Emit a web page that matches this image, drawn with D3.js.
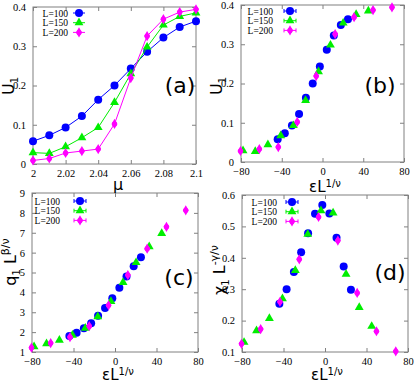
<!DOCTYPE html>
<meta charset="utf-8">
<style>
body { margin: 0; background: #fff; }
svg { display: block; }
.tick text { font-family: "Liberation Serif", serif; font-size: 10.5px; fill: #000; }
.frame { fill: none; stroke: #808080; stroke-width: 1; }
.lbl { font-family: "DejaVu Sans", sans-serif; fill: #000; }
.leg { font-family: "Liberation Serif", serif; font-size: 9.5px; }
</style>
<svg width="415" height="384" id="chart"></svg>
<script src="https://d3js.org/d3.v7.min.js"></script>
<script>

// panel (a): Binder cumulant vs mu
var mu = [2.00, 2.01, 2.02, 2.03, 2.04, 2.05, 2.06, 2.07, 2.08, 2.09, 2.10];
var u100 = [0.058, 0.073, 0.093, 0.122, 0.164, 0.200, 0.243, 0.286, 0.322, 0.349, 0.364];
var u150 = [0.029, 0.027, 0.044, 0.067, 0.093, 0.157, 0.230, 0.298, 0.354, 0.376, 0.385];
var u200 = [0.009, 0.014, 0.028, 0.033, 0.038, 0.102, 0.219, 0.326, 0.369, 0.387, 0.394];

// scaled variable eps L^(1/nu) for collapsed panels
var x100 = [-44, -37, -30, -23, -16.3, -9.6, -2.6, 4.2, 11.1, 18, 25];
var x150 = [-78, -66, -53.6, -41, -28.6, -16.6, -3.9, 7.8, 20.3, 33, 45];
var x200 = [-80.5, -62, -43.4, -24.8, -6.2, 12.4, 31, 49.6, 68.2];   // mu 2.02 .. 2.10

// panel (c): q1 L^(beta/nu)
var q100 = [1.80, 1.97, 2.20, 2.45, 2.82, 3.22, 3.70, 4.23, 4.80, 5.32, 5.77];
var q150 = [1.27, 1.42, 1.60, 1.85, 2.20, 2.78, 3.55, 4.50, 5.50, 6.30, 6.97];
var q200 = [1.22, 1.45, 1.75, 2.30, 3.35, 4.87, 6.20, 7.30, 8.13];

// panel (d): chi1 L^(-gamma/nu)
var c100 = [0.254, 0.300, 0.355, 0.418, 0.478, 0.540, 0.568, 0.541, 0.464, 0.372, 0.298];
var c150 = [0.131, 0.168, 0.207, 0.270, 0.360, 0.475, 0.550, 0.543, 0.348, 0.242, 0.182];
var c200 = [0.126, 0.173, 0.260, 0.395, 0.530, 0.455, 0.288, 0.166, 0.102];

var labels = ["L=100", "L=150", "L=200"];
var colors = ["#0000ff", "#00ee00", "#ff00ff"];
var shapes = ["circle", "triangle", "diamond"];

var svg = d3.select("svg#chart");

function marker(g, shape, color, cx, cy) {
  if (shape == "circle") {
    g.append("circle").attr("cx", cx).attr("cy", cy).attr("r", 4).attr("fill", color);
  } else if (shape == "triangle") {
    g.append("path").attr("d", d3.symbol(d3.symbolTriangle, 34)())
      .attr("transform", "translate(" + cx + "," + cy + ")").attr("fill", color);
  } else {
    g.append("path").attr("d", d3.symbol(d3.symbolDiamond, 30)())
      .attr("transform", "translate(" + cx + "," + cy + ")").attr("fill", color);
    g.append("circle").attr("cx", cx).attr("cy", cy).attr("r", 2.6).attr("fill", color);
  }
}

function panel(box, xdom, xticks, xfmt, ydom, yticks, yfmt, series, lines, leg) {
  var x = d3.scaleLinear().domain(xdom).range([box.l, box.r]),
      y = d3.scaleLinear().domain(ydom).range([box.b, box.t]);
  var g = svg.append("g");

  g.append("g").attr("transform", "translate(0," + box.b + ")")
    .call(d3.axisBottom(x).tickValues(xticks).tickFormat(xfmt).tickSizeInner(-4).tickSizeOuter(0).tickPadding(6));
  g.append("g").attr("transform", "translate(0," + box.t + ")")
    .call(d3.axisTop(x).tickValues(xticks).tickFormat("").tickSizeInner(-4).tickSizeOuter(0));
  g.append("g").attr("transform", "translate(" + box.l + ",0)")
    .call(d3.axisLeft(y).tickValues(yticks).tickFormat(yfmt).tickSizeInner(-4).tickSizeOuter(0).tickPadding(7));
  g.append("g").attr("transform", "translate(" + box.r + ",0)")
    .call(d3.axisRight(y).tickValues(yticks).tickFormat("").tickSizeInner(-4).tickSizeOuter(0));
  g.selectAll(".domain").remove();
  g.selectAll(".tick line").attr("stroke", "#808080");
  g.append("rect").attr("class", "frame")
    .attr("x", box.l).attr("y", box.t).attr("width", box.r - box.l).attr("height", box.b - box.t);

  series.forEach(function(s, k) {
    var pts = s.xs.map(function(v, i) { return [v, s.ys[i]]; });
    if (lines) {
      g.append("path").datum(pts)
        .attr("fill", "none").attr("stroke", colors[k]).attr("stroke-width", 1)
        .attr("d", d3.line().x(function(d) { return x(d[0]); }).y(function(d) { return y(d[1]); }));
    }
    pts.forEach(function(d) { marker(g, shapes[k], colors[k], x(d[0]), y(d[1])); });
  });

  // legend
  labels.forEach(function(t, k) {
    var yy = leg.y + k * 9.7, mx = leg.x + leg.off;
    g.append("text").attr("class", "leg").attr("x", leg.x).attr("y", yy + 3.5)
      .attr("text-anchor", "end").text(t);
    g.append("line").attr("x1", mx - 6).attr("x2", mx + 6).attr("y1", yy).attr("y2", yy)
      .attr("stroke", colors[k]).attr("stroke-width", 1);
    if (leg.err) {
      [mx - 6, mx + 6].forEach(function(e) {
        g.append("line").attr("x1", e).attr("x2", e).attr("y1", yy - 2).attr("y2", yy + 2)
          .attr("stroke", colors[k]).attr("stroke-width", 1);
      });
    }
    marker(g, shapes[k], colors[k], mx, yy);
  });
  return g;
}

var f1 = d3.format(".1f");
function f0(d) { return d == 0 ? "0" : f1(d); }

// (a)
panel({l: 33, r: 196, t: 7, b: 164}, [2, 2.1], [2, 2.02, 2.04, 2.06, 2.08, 2.1],
  function(d) { return d == 2 ? "2" : (d == 2.1 ? "2.1" : d3.format(".2f")(d)); },
  [0, 0.4], [0, 0.1, 0.2, 0.3, 0.4], f0,
  [{xs: mu, ys: u100}, {xs: mu, ys: u150}, {xs: mu, ys: u200}], true,
  {x: 68, y: 13, off: 11, err: false});

// (b)
panel({l: 241, r: 404, t: 5, b: 162}, [-80, 80], [-80, -40, 0, 40, 80], d3.format("d"),
  [0, 0.4], [0, 0.1, 0.2, 0.3, 0.4], f0,
  [{xs: x100, ys: u100}, {xs: x150, ys: u150}, {xs: x200, ys: u200.slice(2)}], false,
  {x: 273, y: 11, off: 17, err: true});

// (c)
panel({l: 32, r: 198, t: 193, b: 352}, [-80, 80], [-80, -40, 0, 40, 80], d3.format("d"),
  [1, 9], [1, 2, 3, 4, 5, 6, 7, 8, 9], d3.format("d"),
  [{xs: x100, ys: q100}, {xs: x150, ys: q150}, {xs: x200, ys: q200}], false,
  {x: 60, y: 201, off: 20, err: true});

// (d)
panel({l: 242, r: 408, t: 195, b: 352}, [-80, 80], [-80, -40, 0, 40, 80], d3.format("d"),
  [0.1, 0.6], [0.1, 0.2, 0.3, 0.4, 0.5, 0.6], f1,
  [{xs: x100, ys: c100}, {xs: x150, ys: c150}, {xs: x200, ys: c200}], false,
  {x: 277, y: 202, off: 15, err: true});

// panel letters
[["(a)", 180, 93], ["(b)", 380, 93], ["(c)", 179, 285], ["(d)", 390, 280]].forEach(function(p) {
  svg.append("text").attr("class", "lbl").attr("x", p[1]).attr("y", p[2])
    .attr("text-anchor", "middle").style("font-size", "22px").text(p[0]);
});

// axis titles
function ylabel(cx, cy, base, sub, sup) {
  var t = svg.append("text").attr("class", "lbl")
    .attr("transform", "translate(" + cx + "," + cy + ") rotate(-90)")
    .attr("text-anchor", "middle").style("font-size", "16px");
  t.append("tspan").text(base);
  t.append("tspan").attr("dy", 4).style("font-size", "10px").text(sub);
  if (sup) {
    t.append("tspan").attr("dy", -4).text(" L");
    t.append("tspan").attr("dy", -7).style("font-size", "11px").text(sup);
  }
}
ylabel(14, 86, "U", "1");
ylabel(222, 86, "U", "1");
ylabel(16, 262, "q", "1", "β/ν");
ylabel(225, 270, "χ", "1", "-γ/ν");

function xlabel(cx, cy) {
  var t = svg.append("text").attr("class", "lbl").attr("x", cx).attr("y", cy)
    .attr("text-anchor", "middle").style("font-size", "15px");
  t.append("tspan").text("εL");
  t.append("tspan").attr("dy", -5).style("font-size", "10px").text("1/ν");
}
svg.append("text").attr("class", "lbl").attr("x", 118).attr("y", 190)
  .attr("text-anchor", "middle").style("font-size", "16px").text("μ");
xlabel(325, 192);
xlabel(118, 380);
xlabel(327, 380);

</script>
